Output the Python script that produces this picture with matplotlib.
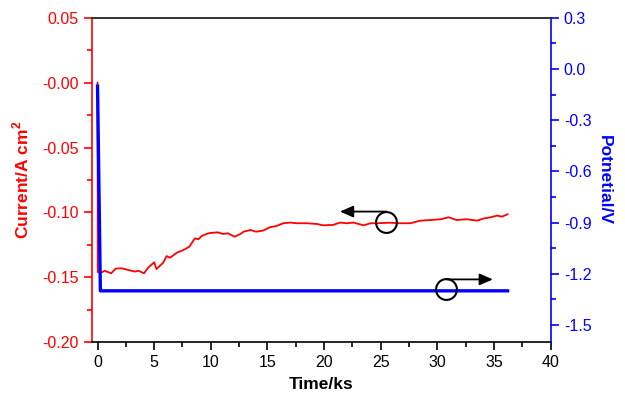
import numpy as np
import matplotlib
matplotlib.use('Agg')
import matplotlib.pyplot as plt

plt.rcParams['font.family'] = ['Liberation Sans', 'DejaVu Sans']
plt.rcParams['mathtext.fontset'] = 'custom'
plt.rcParams['mathtext.rm'] = 'Liberation Sans'
plt.rcParams['mathtext.bf'] = 'Liberation Sans:bold'

# current (A cm^-2) vs time (ks)
time_cur = [0.0, 0.02, 0.33, 0.62, 1.2, 1.6, 2.1, 2.7, 3.3, 3.6, 4.1, 4.5, 5.0, 5.2,
            5.8, 6.1, 6.4, 7.0, 7.6, 8.1, 8.6, 8.9, 9.2, 9.8, 10.6, 11.1, 11.5,
            12.1, 12.6, 12.9, 13.5, 14.0, 14.6, 15.2, 15.8, 16.4, 17.0, 17.6,
            18.5, 19.4, 19.9, 20.8, 21.4, 22.0, 22.6, 23.5, 24.1, 24.7, 25.8,
            26.7, 27.6, 28.5, 29.4, 30.3, 31.0, 31.7, 32.6, 33.5, 34.1, 34.7,
            35.3, 35.7, 36.2]
current = [0.0, -0.146, -0.1465, -0.145, -0.147, -0.1434, -0.1431, -0.1444, -0.1457,
           -0.145, -0.147, -0.1424, -0.1385, -0.1437, -0.1388, -0.1337, -0.135,
           -0.1311, -0.129, -0.1265, -0.12, -0.1208, -0.1182, -0.1161, -0.1154,
           -0.1167, -0.1161, -0.1188, -0.1167, -0.1149, -0.1136, -0.1149, -0.1141,
           -0.1115, -0.1105, -0.1084, -0.1079, -0.1084, -0.1084, -0.109, -0.110,
           -0.1097, -0.1079, -0.1084, -0.1079, -0.110, -0.1084, -0.1084, -0.108,
           -0.1084, -0.1084, -0.1064, -0.1059, -0.1053, -0.1038, -0.1059, -0.1053,
           -0.1064, -0.1047, -0.1038, -0.1025, -0.1033, -0.1015]

# potential (V) vs time (ks)
time_pot = [0.0, 0.25, 36.2]
potential = [-0.1, -1.3, -1.3]

fig = plt.figure(figsize=(6.25, 3.97), dpi=100)
ax = fig.add_axes([0.147, 0.1385, 0.734, 0.8165])
ax2 = ax.twinx()

ax.plot(time_cur, current, color='red', lw=1.3)
ax2.plot(time_pot, potential, color='blue', lw=2.4)

ax.set_xlim(-0.5, 40)
ax.set_ylim(-0.2, 0.05)
ax2.set_ylim(-1.6, 0.3)

ax.set_xticks(np.arange(0, 41, 5))
ax.set_xticks(np.arange(2.5, 40, 5), minor=True)
ax.set_yticks(np.arange(-0.2, 0.051, 0.05))
ax.set_yticks(np.arange(-0.175, 0.05, 0.05), minor=True)
ax.yaxis.set_major_formatter(matplotlib.ticker.FormatStrFormatter('%.2f'))
ax2.set_yticks(np.arange(-1.5, 0.31, 0.3))
ax2.set_yticks(np.arange(-1.35, 0.3, 0.3), minor=True)
ax2.yaxis.set_major_formatter(matplotlib.ticker.FormatStrFormatter('%.1f'))

for a in (ax, ax2):
    for s in a.spines.values():
        s.set_linewidth(1.2)
ax.spines['left'].set_color('red')
ax.spines['right'].set_visible(False)
ax.spines['top'].set_color('#333333')
ax.spines['bottom'].set_color('black')
ax2.spines['right'].set_color('blue')
ax2.spines['left'].set_visible(False)
ax2.spines['top'].set_color('#333333')
ax2.spines['bottom'].set_visible(False)

ax.tick_params(axis='x', which='major', length=6, width=1.2, labelsize=11.5, colors='black')
ax.tick_params(axis='x', which='minor', length=3.5, width=1.2)
ax.tick_params(axis='y', which='major', length=6, width=1.2, labelsize=11.5,
               colors='red')
ax.tick_params(axis='y', which='minor', length=3.5, width=1.2, colors='red')
ax2.tick_params(axis='y', which='major', length=6, width=1.2, labelsize=11.5,
                colors='blue')
ax2.tick_params(axis='y', which='minor', length=3.5, width=1.2, colors='blue')

ax.set_xlabel('Time/ks', fontsize=12.5, fontweight='bold', labelpad=5)
ax.set_ylabel(r'Current/A cm$^\mathbf{2}$', fontsize=12.5, fontweight='bold',
              color='red', labelpad=8)
ax2.set_ylabel('Potnetial/V', fontsize=12.5, fontweight='bold', color='blue',
               rotation=270, labelpad=15)

# circles with arrows pointing to the matching axis
circle_style = dict(marker='o', ms=15, mfc='none', mec='black', mew=1.5, zorder=5)
arrow_style = dict(arrowstyle='-|>,head_length=0.8,head_width=0.35', color='black',
                   lw=1.3, mutation_scale=10, shrinkA=0, shrinkB=0)
ax.plot([25.46], [-0.1076], **circle_style)
ax2.plot([30.8], [-1.291], **circle_style)
ax.annotate('', xy=(21.4, -0.0994), xytext=(25.5, -0.0994), arrowprops=arrow_style)
ax2.annotate('', xy=(34.9, -1.233), xytext=(30.8, -1.233), arrowprops=arrow_style)

fig.savefig('out.png', dpi=100)
